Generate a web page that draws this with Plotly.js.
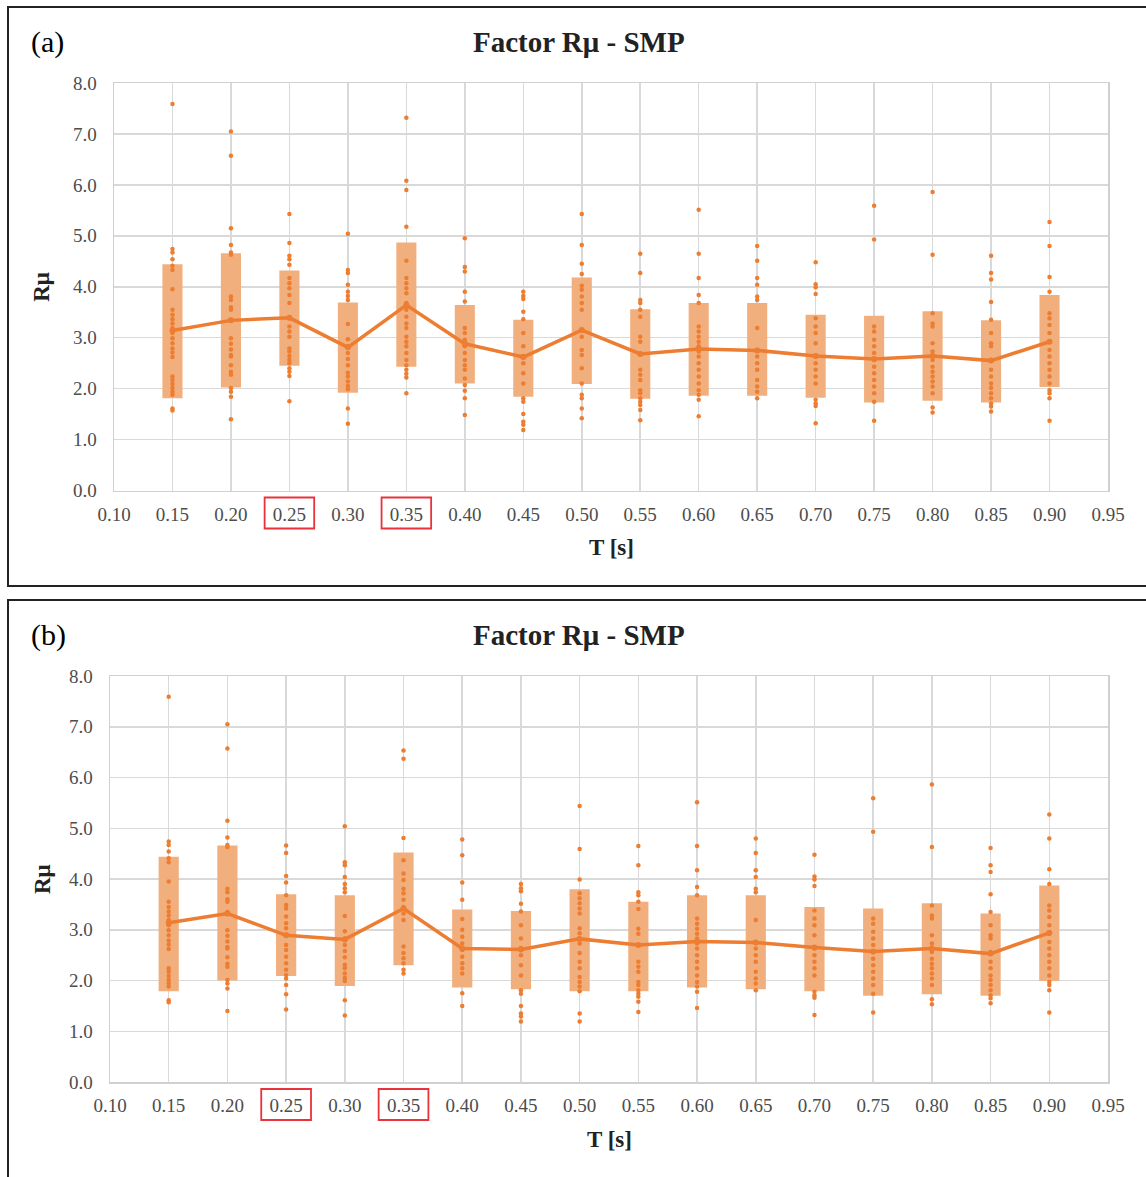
<!DOCTYPE html>
<html><head><meta charset="utf-8">
<script src="https://cdn.plot.ly/plotly-3.0.1.min.js"></script>
<style>html,body{margin:0;padding:0;background:#fff;} #chart{width:1146px;height:1177px;}</style>
</head><body><div id="chart"></div>
<script>
// Periods T [s]
const T = [0.15,0.20,0.25,0.30,0.35,0.40,0.45,0.50,0.55,0.60,0.65,0.70,0.75,0.80,0.85,0.90];
const xTicks = [0.10,0.15,0.20,0.25,0.30,0.35,0.40,0.45,0.50,0.55,0.60,0.65,0.70,0.75,0.80,0.85,0.90,0.95];
const yTicks = [0,1,2,3,4,5,6,7,8];
const highlightT = [0.25, 0.35];

// Panel (a)
const lowA  = [1.81,2.02,2.45,1.92,2.43,2.10,1.84,2.09,1.80,1.86,1.86,1.82,1.73,1.76,1.73,2.03];
const highA = [4.44,4.66,4.32,3.69,4.87,3.64,3.35,4.18,3.56,3.68,3.68,3.45,3.43,3.52,3.34,3.84];
const meanA = [3.14,3.34,3.39,2.81,3.64,2.88,2.62,3.15,2.68,2.78,2.75,2.64,2.58,2.64,2.55,2.92];
const dotsA = [
  [7.59,4.74,4.67,4.54,4.41,4.33,3.95,3.55,3.45,3.36,3.28,3.19,3.09,2.99,2.89,2.79,2.71,2.62,2.24,2.17,2.09,2.01,1.94,1.88,1.61,1.57],
  [7.05,6.57,5.15,4.82,4.67,4.63,3.81,3.74,3.60,3.55,3.35,2.99,2.88,2.77,2.66,2.63,2.46,2.33,2.27,2.01,1.94,1.84,1.40],
  [5.43,4.86,4.61,4.54,4.43,4.17,4.07,3.97,3.84,3.68,3.38,3.22,3.12,3.02,2.79,2.73,2.64,2.56,2.50,2.40,2.33,2.25,1.75],
  [5.04,4.33,4.27,4.04,3.90,3.82,3.74,3.27,2.97,2.83,2.70,2.58,2.46,2.31,2.24,2.14,2.05,1.99,1.61,1.31],
  [7.32,6.08,5.90,5.18,4.51,4.17,4.07,3.97,3.87,3.68,3.55,3.41,3.28,3.19,3.02,2.92,2.83,2.70,2.56,2.46,2.37,2.29,2.22,1.91],
  [4.95,4.39,4.30,3.90,3.71,3.19,3.09,2.96,2.83,2.70,2.56,2.46,2.37,2.20,2.07,1.96,1.81,1.48],
  [3.90,3.82,3.76,3.51,3.36,3.09,2.83,2.64,2.50,2.30,2.10,1.81,1.74,1.50,1.35,1.29,1.19],
  [5.43,4.82,4.45,4.25,4.02,3.94,3.81,3.68,3.55,3.15,3.02,2.76,2.66,2.40,2.10,1.88,1.81,1.61,1.42],
  [4.65,4.27,3.74,3.68,3.55,3.41,3.02,2.92,2.37,2.27,2.17,1.97,1.91,1.81,1.74,1.68,1.58,1.38],
  [5.51,4.65,4.17,3.84,3.68,3.22,3.12,3.02,2.92,2.83,2.73,2.63,2.50,2.37,2.24,2.10,1.97,1.88,1.78,1.46],
  [4.80,4.51,4.17,4.04,3.81,3.74,3.19,2.76,2.63,2.50,2.37,2.17,2.04,1.94,1.81],
  [4.48,4.05,3.99,3.86,3.38,3.22,3.09,2.89,2.63,2.50,2.37,2.24,2.10,1.78,1.71,1.66,1.32],
  [5.59,4.93,3.22,3.12,2.96,2.83,2.70,2.56,2.43,2.30,2.17,2.04,1.91,1.74,1.37],
  [5.86,4.63,3.48,3.28,3.22,2.89,2.73,2.56,2.43,2.33,2.24,2.14,2.04,1.91,1.63,1.53],
  [4.61,4.27,4.14,3.70,3.35,3.09,2.89,2.83,2.56,2.37,2.24,2.10,2.01,1.91,1.81,1.71,1.65,1.55],
  [5.27,4.80,4.19,3.90,3.48,3.38,3.25,3.09,2.92,2.76,2.63,2.50,2.37,2.24,2.10,1.97,1.91,1.81,1.37]
];

// Panel (b)
const lowB  = [1.79,2.00,2.09,1.89,2.30,1.86,1.83,1.79,1.79,1.86,1.83,1.79,1.70,1.73,1.70,1.99];
const highB = [4.44,4.66,3.70,3.68,4.52,3.40,3.37,3.80,3.55,3.68,3.68,3.45,3.42,3.52,3.32,3.87];
const meanB = [3.14,3.32,2.89,2.81,3.42,2.63,2.61,2.82,2.70,2.77,2.75,2.65,2.57,2.63,2.53,2.94];
const dotsB = [
  dotsA[0],
  dotsA[1],
  [4.66,4.51,4.06,3.93,3.68,3.49,3.42,3.26,3.13,3.03,2.90,2.70,2.60,2.47,2.34,2.21,2.11,2.04,1.91,1.73,1.43],
  dotsA[3],
  [6.53,6.37,4.81,4.37,4.11,3.98,3.81,3.72,3.59,3.45,3.32,3.19,2.67,2.54,2.44,2.34,2.21,2.14],
  [4.78,4.47,3.93,3.59,3.21,3.00,2.86,2.73,2.60,2.47,2.34,2.24,2.14,1.75,1.50],
  dotsA[6],
  [5.44,4.59,3.99,3.72,3.62,3.52,3.42,3.32,3.03,2.93,2.73,2.54,2.37,2.24,2.07,1.97,1.88,1.79,1.35,1.19],
  dotsA[8], dotsA[9], dotsA[10], dotsA[11], dotsA[12], dotsA[13], dotsA[14], dotsA[15]
];

const W = 1146, H = 1177;
const px = v => v / W, py = v => 1 - v / H;
const ORANGE = '#ED7D31', BOXC = '#F2AF7E', FONT = 'Liberation Serif, Times New Roman, serif';

function panelTraces(low, high, mean, dots, xa, ya) {
  const dx = [], dy = [];
  dots.forEach((arr, i) => arr.forEach(v => { dx.push(T[i]); dy.push(v); }));
  return [
    {type:'bar', x:T, base:low, y:high.map((h,i)=>h-low[i]), width:0.0172,
     marker:{color:BOXC, line:{width:0}}, xaxis:xa, yaxis:ya, hoverinfo:'skip'},
    {type:'scatter', mode:'markers', x:dx, y:dy, marker:{color:ORANGE, size:4.5},
     xaxis:xa, yaxis:ya, hoverinfo:'skip'},
    {type:'scatter', mode:'lines+markers', x:T, y:mean, line:{color:ORANGE, width:3.5},
     marker:{color:ORANGE, size:6}, xaxis:xa, yaxis:ya, hoverinfo:'skip'}
  ];
}

const data = [
  ...panelTraces(lowA, highA, meanA, dotsA, 'x', 'y'),
  ...panelTraces(lowB, highB, meanB, dotsB, 'x2', 'y2')
];

function xAxis(domain, anchor) {
  return {domain, anchor, range:[0.10,0.95], tickvals:xTicks, ticktext:xTicks.map(v=>v.toFixed(2)),
    showgrid:true, gridcolor:'#d9d9d9', gridwidth:1.5, zeroline:false,
    showline:true, mirror:true, linecolor:'#d0d0d0', linewidth:1.5,
    ticks:'', ticklabelstandoff:6, tickfont:{family:FONT, size:19, color:'#4d4d4d'}};
}
function yAxis(domain, anchor) {
  return {domain, anchor, range:[0,8], tickvals:yTicks, ticktext:yTicks.map(v=>v.toFixed(1)),
    showgrid:true, gridcolor:'#d9d9d9', gridwidth:1.5, zeroline:false,
    showline:true, mirror:true, linecolor:'#d0d0d0', linewidth:1.5,
    ticks:'', ticklabelstandoff:12, tickfont:{family:FONT, size:19, color:'#4d4d4d'}};
}

const annotations = [];
const shapes = [];
function panelDecor(letter, top, xL, plotTop, plotBot, xref, bottomBorder) {
  const xR = 1108;
  annotations.push({text:letter, xref:'paper', yref:'paper', x:px(29), y:py(top+35), xanchor:'left', yanchor:'middle',
    showarrow:false, font:{family:FONT, size:30, color:'#000'}});
  annotations.push({text:'<b>Factor Rμ - SMP</b>', xref:'paper', yref:'paper', x:px(579), y:py(top+35), xanchor:'center', yanchor:'middle',
    showarrow:false, font:{family:FONT, size:29, color:'#222'}});
  annotations.push({text:'<b>Rμ</b>', xref:'paper', yref:'paper', x:px(42), y:py((plotTop+plotBot)/2), xanchor:'center', yanchor:'middle',
    textangle:-90, showarrow:false, font:{family:FONT, size:23, color:'#222'}});
  annotations.push({text:'<b>T [s]</b>', xref:'paper', yref:'paper', x:px((xL+xR)/2), y:py(plotBot+57), xanchor:'center', yanchor:'middle',
    showarrow:false, font:{family:FONT, size:23, color:'#222'}});
  highlightT.forEach(t => shapes.push({type:'rect', xref:xref, yref:'paper', x0:t-0.0212, x1:t+0.0212,
    y0:py(plotBot+7), y1:py(plotBot+38), line:{color:'#E8323C', width:1.8}, fillcolor:'rgba(0,0,0,0)'}));
  shapes.push({type:'rect', xref:'paper', yref:'paper', x0:px(8), x1:px(1160), y0:bottomBorder, y1:py(top),
    line:{color:'#222', width:2}, fillcolor:'rgba(0,0,0,0)'});
}
panelDecor('(a)', 7, 114, 83, 490.5, 'x', py(586));
panelDecor('(b)', 600, 110, 676, 1082, 'x2', py(1200));

const layout = {
  width:W, height:H, margin:{l:0,r:0,t:0,b:0}, paper_bgcolor:'#fff', plot_bgcolor:'#fff',
  showlegend:false, barmode:'overlay', hovermode:false,
  xaxis: xAxis([px(114), px(1108)], 'y'),
  yaxis: yAxis([py(490.5), py(83)], 'x'),
  xaxis2: xAxis([px(110), px(1108)], 'y2'),
  yaxis2: yAxis([py(1082), py(676)], 'x2'),
  annotations, shapes
};
Plotly.newPlot('chart', data, layout, {staticPlot:true, displayModeBar:false});
</script>
</body></html>
